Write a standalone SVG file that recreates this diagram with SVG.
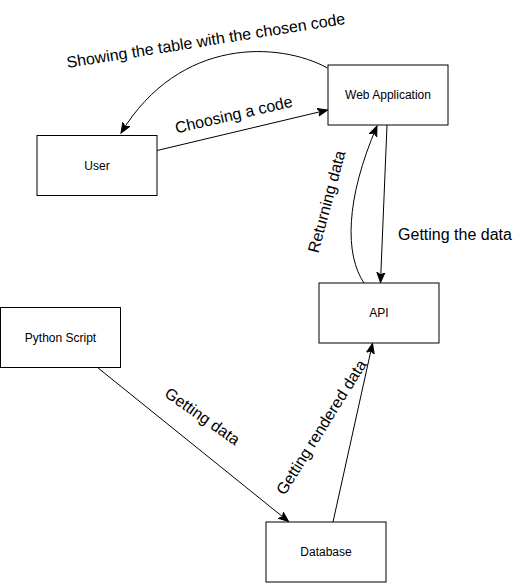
<svg xmlns="http://www.w3.org/2000/svg" width="522" height="583" viewBox="0 0 522 583">
<style>
.node rect{fill:#fff;stroke:#000;stroke-width:1}
.nl{font-family:"Liberation Sans",Arial,sans-serif;font-size:12px;fill:#000;text-anchor:middle}
.el{font-family:"Liberation Sans",Arial,sans-serif;font-size:16px;fill:#000;text-anchor:middle}
.edge{fill:none;stroke:#000;stroke-width:1}
</style>
<defs>
<marker id="arr" markerUnits="userSpaceOnUse" markerWidth="12" markerHeight="10" refX="10" refY="4" orient="auto" viewBox="0 0 12 8">
<path d="M0,0 L10,4 L0,8 L2.5,4 Z" fill="#000" stroke="#000" stroke-width="1"/>
</marker>
</defs>
<rect width="522" height="583" fill="#fff"/>
<g id="connectors">
<path class="edge" d="M327.5 68 C280 42 180 36 121 133" marker-end="url(#arr)"/>
<path class="edge" d="M157 150.5 L327.5 110" marker-end="url(#arr)"/>
<path class="edge" d="M387 125 L380.5 282.5" marker-end="url(#arr)"/>
<path class="edge" d="M364 283 C345 255 345 200 377 126" marker-end="url(#arr)"/>
<path class="edge" d="M97.5 367.5 L288.5 521.5" marker-end="url(#arr)"/>
<path class="edge" d="M333 522 L372.5 343.5" marker-end="url(#arr)"/>
<text class="el" transform="translate(206 42) rotate(-9)" y="4">Showing the table with the chosen code</text>
<text class="el" transform="translate(234 116) rotate(-13)" y="4">Choosing a code</text>
<text class="el" x="455" y="240">Getting the data</text>
<text class="el" transform="translate(328 202) rotate(-75)" y="4">Returning data</text>
<text class="el" transform="translate(201.5 417.5) rotate(35)" y="4">Getting data</text>
<text class="el" transform="translate(322.5 428) rotate(-58)" y="4">Getting rendered data</text>
</g>
<g id="web-application" class="node"><rect x="328" y="65" width="120" height="60"/><text class="nl" x="388" y="99">Web Application</text></g>
<g id="user" class="node"><rect x="37" y="135.5" width="120" height="60"/><text class="nl" x="97" y="169.5">User</text></g>
<g id="api" class="node"><rect x="319" y="283" width="120" height="60"/><text class="nl" x="379" y="317">API</text></g>
<g id="python-script" class="node"><rect x="0.5" y="307.5" width="120" height="60"/><text class="nl" x="60.5" y="341.5">Python Script</text></g>
<g id="database" class="node"><rect x="266" y="522" width="120" height="60"/><text class="nl" x="326" y="556">Database</text></g>
</svg>
